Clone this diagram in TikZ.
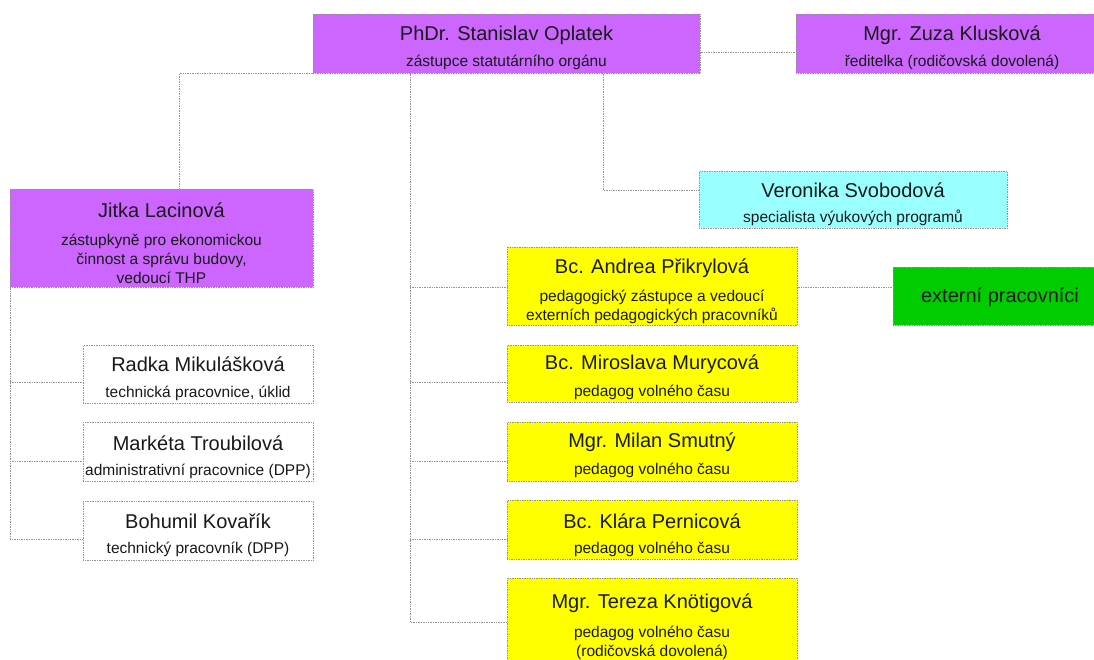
\documentclass[tikz,border=0pt]{standalone}
\usepackage{fontspec}
\setmainfont{Liberation Sans}
\usetikzlibrary{calc}
\definecolor{purp}{RGB}{204,102,255}
\definecolor{cyanbox}{RGB}{153,255,255}
\definecolor{yelbox}{RGB}{255,255,0}
\definecolor{grnbox}{RGB}{0,204,0}
\tikzset{
  box/.style={draw=gray!85, densely dotted, line width=0.7pt, inner sep=0pt, anchor=north west},
  conn/.style={draw=gray!85, densely dotted, line width=0.7pt},
  nm/.style={inner sep=0pt, font=\fontsize{20}{24}\selectfont, text=black!90},
  sb/.style={inner sep=0pt, align=center, font=\fontsize{15.5}{19}\selectfont, text=black!90},
}
\begin{document}
\begin{tikzpicture}[x=1pt,y=-1pt]
\clip (0,0) rectangle (1094,660);
\fill[white] (0,0) rectangle (1094,660);
% boxes
\node[box, fill=purp, minimum width=387pt, minimum height=59pt] (phdr) at (313,14) {};
\node[box, fill=purp, minimum width=312pt, minimum height=59pt] (zuza) at (796,14) {};
\node[box, fill=purp, minimum width=303pt, minimum height=98pt] (jitka) at (10,189) {};
\node[box, fill=cyanbox, minimum width=308pt, minimum height=57pt] (vero) at (699,171) {};
\node[box, fill=yelbox, minimum width=290pt, minimum height=78pt] (andrea) at (507,247) {};
\node[box, fill=grnbox, minimum width=215pt, minimum height=58pt] (ext) at (893,267) {};
\node[box, fill=yelbox, minimum width=290pt, minimum height=57pt] (mirek) at (507,345) {};
\node[box, fill=yelbox, minimum width=290pt, minimum height=59pt] (milan) at (507,422) {};
\node[box, fill=yelbox, minimum width=290pt, minimum height=59pt] (klara) at (507,500) {};
\node[box, fill=yelbox, minimum width=290pt, minimum height=100pt] (tereza) at (507,578) {};
\node[box, fill=white, minimum width=230pt, minimum height=58pt] (radka) at (83,345) {};
\node[box, fill=white, minimum width=230pt, minimum height=59pt] (marketa) at (83,422) {};
\node[box, fill=white, minimum width=230pt, minimum height=59pt] (bohumil) at (83,501) {};
% texts
\node[nm] (phdrN) at (506.5,35) {PhDr. Stanislav Oplatek};
\node[sb] (phdrS) at (506.5,62) {zástupce statutárního orgánu};
\node[nm] (zuzaN) at (952,35) {Mgr. Zuza Klusková};
\node[sb] (zuzaS) at (952,62) {ředitelka (rodičovská dovolená)};
\node[nm] (jitkaN) at (161.5,210) {Jitka Lacinová};
\node[sb] (jitkaS) at (161.5,259) {zástupkyně pro ekonomickou\\činnost a správu budovy,\\vedoucí THP};
\node[nm] (veroN) at (853,190) {Veronika Svobodová};
\node[sb] (veroS) at (853,218) {specialista výukových programů};
\node[nm] (andreaN) at (652,268) {Bc. Andrea Přikrylová};
\node[sb] (andreaS) at (652,306.5) {pedagogický zástupce a vedoucí\\externích pedagogických pracovníků};
\node[nm] (extN) at (1000,297) {externí pracovníci};
\node[nm] (mirekN) at (652,364) {Bc. Miroslava Murycová};
\node[sb] (mirekS) at (652,392) {pedagog volného času};
\node[nm] (milanN) at (652,442) {Mgr. Milan Smutný};
\node[sb] (milanS) at (652,470) {pedagog volného času};
\node[nm] (klaraN) at (652,521) {Bc. Klára Pernicová};
\node[sb] (klaraS) at (652,549) {pedagog volného času};
\node[nm] (terezaN) at (652,603) {Mgr. Tereza Knötigová};
\node[sb] (terezaS) at (652,643) {pedagog volného času\\(rodičovská dovolená)};
\node[nm] (radkaN) at (198,364) {Radka Mikulášková};
\node[sb] (radkaS) at (198,393) {technická pracovnice, úklid};
\node[nm] (marketaN) at (198,443) {Markéta Troubilová};
\node[sb] (marketaS) at (198,471) {administrativní pracovnice (DPP)};
\node[nm] (bohumilN) at (198,521) {Bohumil Kovařík};
\node[sb] (bohumilS) at (198,549) {technický pracovník (DPP)};
% connectors
\draw[conn] ($(phdr.north east)+(0,38)$) -- ($(zuza.north west)+(0,38)$);
\coordinate (l0) at ($(phdr.south west)+(-134,0)$);
\draw[conn] (phdr.south west) -- (l0) -- (l0 |- jitka.north);
\coordinate (v0) at ($(phdr.south west)+(290,0)$);
\coordinate (vj) at ($(vero.north west)+(0,19)$);
\draw[conn] (v0) |- (vj);
\coordinate (t0) at ($(phdr.south west)+(97,0)$);
\coordinate (aj) at ($(andrea.north west)+(0,40)$);
\coordinate (mj) at ($(mirek.north west)+(0,37)$);
\coordinate (sj) at ($(milan.north west)+(0,39)$);
\coordinate (kj) at ($(klara.north west)+(0,39)$);
\coordinate (tj) at ($(tereza.north west)+(0,44)$);
\draw[conn] (t0) -- (t0 |- tj) -- (tj);
\draw[conn] (t0 |- aj) -- (aj);
\draw[conn] (t0 |- mj) -- (mj);
\draw[conn] (t0 |- sj) -- (sj);
\draw[conn] (t0 |- kj) -- (kj);
\draw[conn] (aj -| andrea.east) -- (aj -| ext.west);
\coordinate (rj) at ($(radka.north west)+(0,37)$);
\coordinate (mkj) at ($(marketa.north west)+(0,39)$);
\coordinate (bj) at ($(bohumil.north west)+(0,38)$);
\draw[conn] (jitka.south west) -- (jitka.south west |- bj) -- (bj);
\draw[conn] (jitka.south west |- rj) -- (rj);
\draw[conn] (jitka.south west |- mkj) -- (mkj);
\end{tikzpicture}
\end{document}
